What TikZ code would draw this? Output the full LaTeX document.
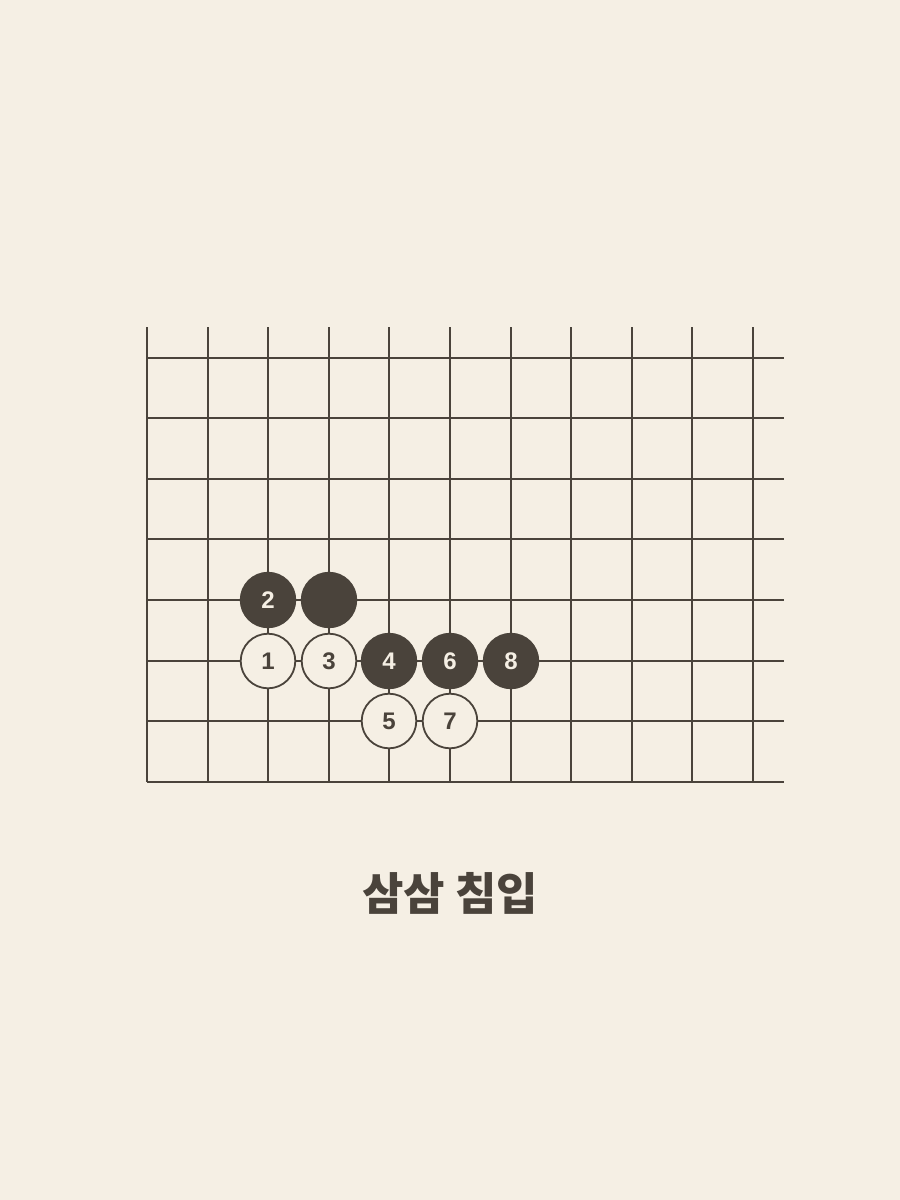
\documentclass[tikz,border=0pt]{standalone}
\usepackage{fontspec}
\setmainfont{Noto Sans}
\newfontfamily\dig{Liberation Sans}
\newfontfamily\kr{Noto Sans CJK KR}
\definecolor{bg}{RGB}{245,239,228}
\definecolor{ink}{RGB}{74,67,59}
\begin{document}
\begin{tikzpicture}[x=1pt,y=-1pt,
  gridline/.style={draw=ink,line width=1.7pt},
  stone/.style={circle,minimum size=54.6pt,inner sep=0pt,line width=1.8pt,font=\dig\bfseries\fontsize{24}{24}\selectfont},
  blackstone/.style={stone,fill=ink,draw=ink,text=bg},
  whitestone/.style={stone,fill=bg,draw=ink,text=ink},
  title/.style={font=\kr\bfseries\fontsize{45}{45}\selectfont,text=ink}]
\fill[bg] (0,0) rectangle (900,1200);
\useasboundingbox (0,0) rectangle (900,1200);
\foreach \x in {147,208,268,329,389,450,511,571,632,692,753}{
  \draw[gridline] (\x,327) -- (\x,782);
}
\foreach \y in {358,418,479,539,600,661,721,782}{
  \draw[gridline] (147,\y) -- (784,\y);
}
\node[blackstone] (s2) at (268,600) {2};
\node[blackstone] (b0) at (329,600) {};
\node[whitestone] (s1) at (268,661) {1};
\node[whitestone] (s3) at (329,661) {3};
\node[blackstone] (s4) at (389,661) {4};
\node[blackstone] (s6) at (450,661) {6};
\node[blackstone] (s8) at (511,661) {8};
\node[whitestone] (s5) at (389,721) {5};
\node[whitestone] (s7) at (450,721) {7};
\node[title] (t) at (450,893) {삼삼 침입};
\end{tikzpicture}
\end{document}
